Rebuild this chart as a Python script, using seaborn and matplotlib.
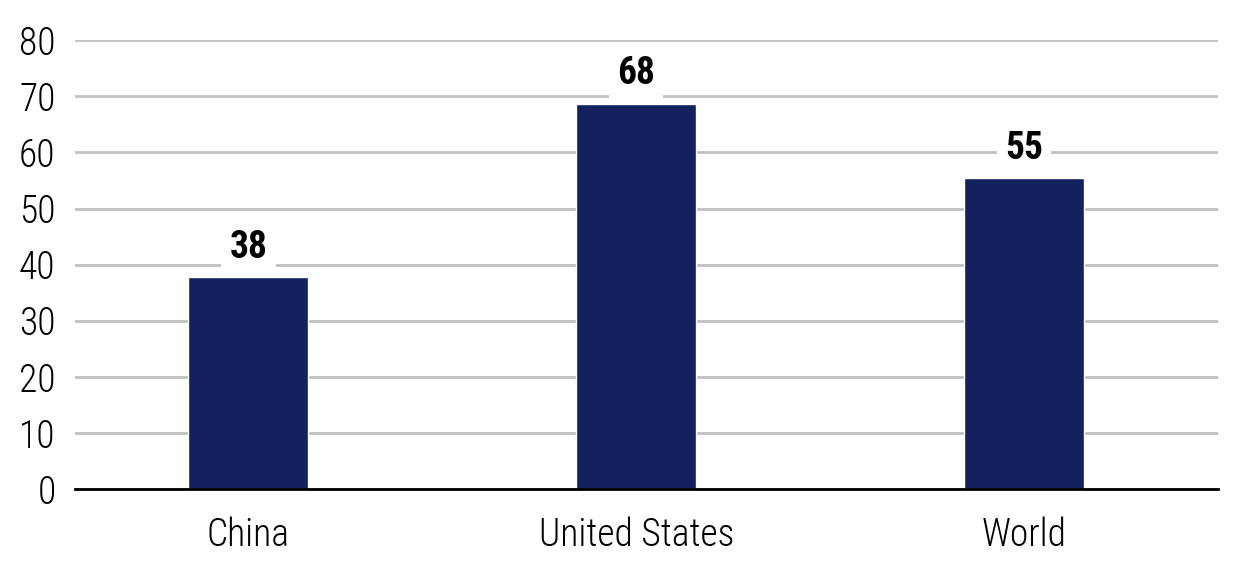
import matplotlib
matplotlib.use("Agg")
import matplotlib.pyplot as plt
import seaborn as sns
import pandas as pd
from matplotlib import font_manager

# data
regions = ["China", "United States", "World"]
values = [37.8, 68.7, 55.4]
value_labels = ["38", "68", "55"]
y_ticks = [0, 10, 20, 30, 40, 50, 60, 70, 80]

df = pd.DataFrame({"region": regions, "value": values})

sns.set_style("white")
names = {f.name for f in font_manager.fontManager.ttflist}
fam = [n for n in ["Liberation Sans Narrow", "Roboto Condensed", "Roboto"] if n in names]
plt.rcParams["font.family"] = fam + ["DejaVu Sans"]
plt.rcParams["text.color"] = "black"

fig = plt.figure(figsize=(12.6, 5.74), dpi=100)
ax = fig.add_axes([0.0595, 0.148, 0.9072, 0.782])

sns.barplot(data=df, x="region", y="value", color="#13215f", width=0.31,
            saturation=1, ax=ax, zorder=3)

ax.set_ylim(0, 80)
ax.set_xlim(-0.447, 2.5)
ax.set_yticks(y_ticks)
ax.yaxis.grid(True, color="#c0c0c0", linewidth=2, zorder=0)
ax.set_axisbelow(True)
for s in ["top", "right", "left"]:
    ax.spines[s].set_visible(False)
ax.spines["bottom"].set_color("black")
ax.spines["bottom"].set_linewidth(2)
ax.spines["bottom"].set_zorder(4)
ax.tick_params(axis="both", length=0, labelsize=27, colors="black")
ax.tick_params(axis="x", pad=20)
ax.tick_params(axis="y", pad=14)
for t in ax.get_xticklabels() + ax.get_yticklabels():
    t.set_fontweight("light")
ax.set_xlabel("")
ax.set_ylabel("")

for i, (v, lab) in enumerate(zip(values, value_labels)):
    ax.annotate(lab, (i, v), xytext=(0, 8), textcoords="offset points",
                ha="center", va="bottom", fontsize=27, fontweight="bold",
                color="black",
                bbox=dict(facecolor="white", edgecolor="none", pad=6), zorder=5)

fig.savefig("out.png", dpi=100)
